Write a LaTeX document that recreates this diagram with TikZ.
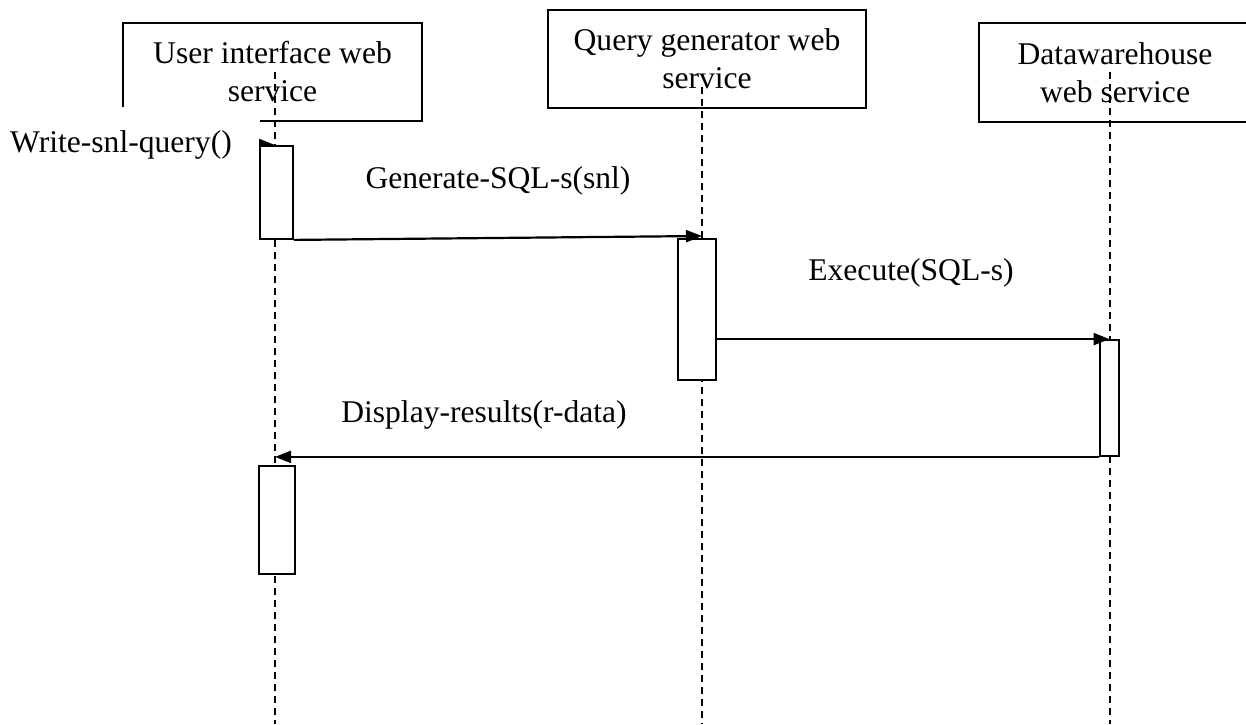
\documentclass[tikz,border=0pt]{standalone}
\usepackage{fontspec}
\setmainfont{Liberation Serif}
\usetikzlibrary{arrows.meta,calc}
\begin{document}
\begin{tikzpicture}[x=1pt,y=-1pt, font=\fontsize{31.6}{38}\selectfont,
  head/.style={draw, line width=1.8pt, align=center, inner sep=0pt},
  act/.style={draw, fill=white, line width=1.8pt, inner sep=0pt},
  lifeline/.style={line width=1.8pt, dash pattern=on 7pt off 5pt},
  msg/.style={line width=2.2pt, -{Triangle[length=16pt,width=12pt]}},
  lbl/.style={anchor=base, inner sep=0pt}]
\useasboundingbox (0,0) rectangle (1246,724);
% headers
\node[head, minimum width=299pt, minimum height=98pt] (ui) at (272.5,72) {User interface web\\service};
\node[head, minimum width=318pt, minimum height=98pt] (qg) at (707,59) {Query generator web\\service};
\node[head, minimum width=272pt, minimum height=99pt] (dw) at (1115,72.5) {Datawarehouse\\web service};
% lifelines
\coordinate (L1) at (275,72);
\coordinate (L2) at (702,87);
\coordinate (L3) at (1110,72);
\coordinate (bot) at (0,724);
\draw[lifeline] (L1) -- (L1 |- bot);
\draw[lifeline] (L2) -- (L2 |- bot);
\draw[lifeline] (L3) -- (L3 |- bot);
% found message
\node[fill=white, anchor=base west, text width=240pt, align=left, inner xsep=10pt, inner ysep=23pt] (wq) at (0,152) {Write-snl-query()};
\coordinate (w1) at (275,145);
\draw[msg] (wq.east |- w1) -- (w1);
% activations
\node[act, minimum width=33pt, minimum height=93pt] (a1) at (276.5,192.5) {};
\node[act, minimum width=38pt, minimum height=141pt] (a2) at (697,309.5) {};
\node[act, minimum width=19pt, minimum height=116pt] (a3) at (1109.5,398) {};
\node[act, minimum width=36pt, minimum height=108pt] (a4) at (277,520) {};
% messages
\coordinate (g1) at (702,236);
\draw[msg] (a1.south east) -- (g1);
\draw[msg] (a2.east |- a3.north) -- (a3.north);
\draw[msg] (a3.south west) -- (L1 |- a3.south);
% labels
\node[lbl] (l1) at (498,188) {Generate-SQL-s(snl)};
\node[lbl] (l2) at (911,280) {Execute(SQL-s)};
\node[lbl] (l3) at (484,422) {Display-results(r-data)};
\end{tikzpicture}
\end{document}
